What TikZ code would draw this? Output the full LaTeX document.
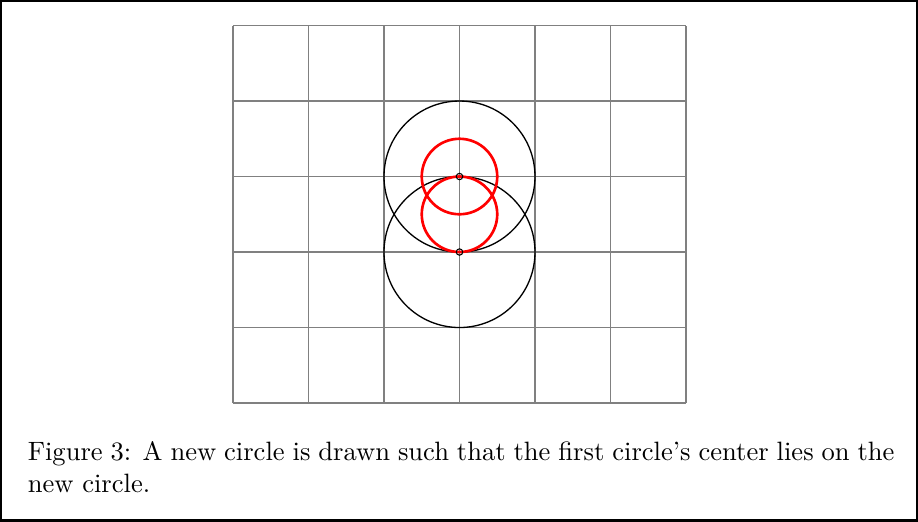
\documentclass[tikz,border=0pt]{standalone}
\begin{document}
\begin{tikzpicture}[
  gridline/.style={gray, line width=0.4pt},
  bigcirc/.style={black, line width=0.5pt},
  redcirc/.style={red, line width=1pt},
  dotmark/.style={circle, draw=black, line width=0.4pt, minimum size=0.085cm, inner sep=0pt},
  caption/.style={anchor=north west, text width=11.48cm, align=justify, inner sep=0pt, font=\normalsize}
]
\useasboundingbox (-3.086,-1.563) rectangle (9.073,5.338);
\draw[line width=1.2pt] (-3.078,-1.555) rectangle (9.065,5.330);
\draw[gridline] (0,0) grid (6,5);
\draw[bigcirc] (3,3) circle (1);
\draw[bigcirc] (3,2) circle (1);
\draw[redcirc] (3,3) circle (0.5);
\draw[redcirc] (3,2.5) circle (0.5);
\node[dotmark] (c1) at (3,3) {};
\node[dotmark] (c2) at (3,2) {};
\node[caption] (cap) at (-2.725,-0.505) {Figure 3: A new circle is drawn such that the first circle's center lies on the new circle.};
\end{tikzpicture}
\end{document}
